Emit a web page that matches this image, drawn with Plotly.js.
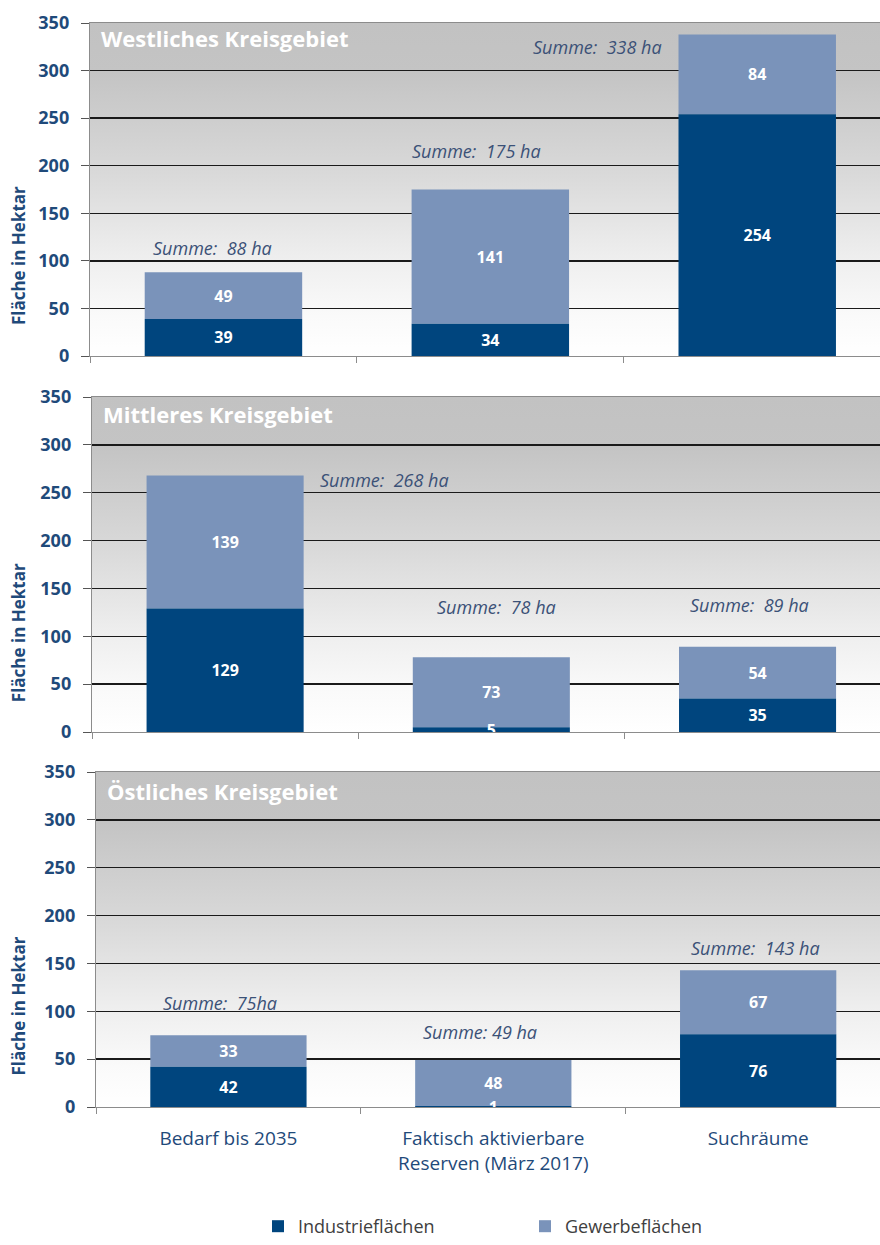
<!DOCTYPE html>
<html>
<head>
<meta charset="utf-8">
<script src="https://cdn.plot.ly/plotly-3.0.1.min.js"></script>
<style>html,body{margin:0;padding:0;background:#fff;overflow:hidden;width:880px;height:1245px;}#chart{width:880px;height:1245px;display:block;}</style>
</head>
<body>
<div id="chart"></div>
<script>
// ---- data ----
const categories = ['Bedarf bis 2035', 'Faktisch aktivierbare<br>Reserven (März 2017)', 'Suchräume'];
const seriesNames = ['Industrieflächen', 'Gewerbeflächen'];
const panelTitles = ['Westliches Kreisgebiet', 'Mittleres Kreisgebiet', 'Östliches Kreisgebiet'];

const westIndustrie = [39, 34, 254];
const westGewerbe = [49, 141, 84];
const mitteIndustrie = [129, 5, 35];
const mitteGewerbe = [139, 73, 54];
const ostIndustrie = [42, 1, 76];
const ostGewerbe = [33, 48, 67];

const westSumme = ['Summe:  88 ha', 'Summe:  175 ha', 'Summe:  338 ha'];
const mitteSumme = ['Summe:  268 ha', 'Summe:  78 ha', 'Summe:  89 ha'];
const ostSumme = ['Summe:  75ha', 'Summe: 49 ha', 'Summe:  143 ha'];

const yTicks = [0, 50, 100, 150, 200, 250, 300, 350];

// ---- styling / layout ----
const FONT = '"Open Sans", Lato, sans-serif';
const DARK = '#00457e';
const LIGHT = '#7a93ba';
const NAVY = '#1f4a7a';
const SUMC = '#3b5177';

const panels = [
  {ind: westIndustrie, gew: westGewerbe, sum: westSumme, title: panelTitles[0],
   yd: [1 - 356/1245, 1 - 23/1245], xl: 90/880,
   sumOff: [[-0.04, 26], [-0.05, 40], [-0.6, -13]], titleY: 0.955, ytY: 0.30},
  {ind: mitteIndustrie, gew: mitteGewerbe, sum: mitteSumme, title: panelTitles[1],
   yd: [1 - 732/1245, 1 - 397/1245], xl: 92/880,
   sumOff: [[0.6, -5], [0.02, 53], [-0.03, 44]], titleY: 0.949, ytY: 0.295},
  {ind: ostIndustrie, gew: ostGewerbe, sum: ostSumme, title: panelTitles[2],
   yd: [1 - 1107/1245, 1 - 772/1245], xl: 96/880,
   sumOff: [[-0.03, 34], [-0.05, 29], [-0.01, 23]], titleY: 0.943, ytY: 0.30}
];

const gradSvg = '<svg xmlns="http://www.w3.org/2000/svg" width="100" height="100" viewBox="0 0 100 100" preserveAspectRatio="none">' +
  '<defs><linearGradient id="g" x1="0" y1="0" x2="0" y2="1">' +
  '<stop offset="0" stop-color="#c2c2c2"/><stop offset="0.15" stop-color="#c4c4c4"/>' +
  '<stop offset="0.45" stop-color="#d9d9d9"/><stop offset="0.7" stop-color="#eeeeee"/>' +
  '<stop offset="0.88" stop-color="#fafafa"/><stop offset="1" stop-color="#ffffff"/>' +
  '</linearGradient></defs><rect x="0" y="0" width="100" height="100" fill="url(#g)"/></svg>';
const gradSrc = 'data:image/svg+xml;charset=utf-8,' + encodeURIComponent(gradSvg);

const traces = [];
const annotations = [];
const images = [];
const layout = {
  width: 880, height: 1245,
  margin: {l: 0, r: 0, t: 0, b: 0},
  paper_bgcolor: '#ffffff', plot_bgcolor: '#ffffff',
  barmode: 'overlay', bargap: 0.41,
  font: {family: FONT, color: NAVY},
  uniformtext: {mode: 'show', minsize: 16},
  showlegend: true,
  legend: {orientation: 'h', x: 258/880, xanchor: 'left', y: 0, yanchor: 'bottom',
           entrywidth: 222, entrywidthmode: 'pixels',
           font: {family: FONT, size: 18, color: '#404040'}, bgcolor: 'rgba(0,0,0,0)'}
};

panels.forEach((p, k) => {
  const n = k === 0 ? '' : String(k + 1);
  const xa = 'x' + n, ya = 'y' + n;
  // Gewerbe segment sits on top of Industrie (base = Industrie value); drawn first so
  // the Industrie labels stay visible above it.
  const common = {type: 'bar', x: categories, xaxis: xa, yaxis: ya, textposition: 'inside',
    insidetextanchor: 'middle', textangle: 0, constraintext: 'none', hoverinfo: 'skip',
    textfont: {family: FONT, size: 16, color: '#ffffff', weight: 'bold'}};
  traces.push(Object.assign({}, common, {
    y: p.gew, base: p.ind, name: seriesNames[1], legendgroup: seriesNames[1], legendrank: 2,
    showlegend: k === 0, marker: {color: LIGHT, line: {width: 0}}, text: p.gew.map(String)
  }));
  traces.push(Object.assign({}, common, {
    y: p.ind, base: p.ind.map(() => 0), name: seriesNames[0], legendgroup: seriesNames[0], legendrank: 1,
    showlegend: k === 0, marker: {color: DARK, line: {width: 0}}, text: p.ind.map(String), cliponaxis: false
  }));
  layout['xaxis' + n] = {
    domain: [p.xl, 1], anchor: ya, type: 'category', range: [-0.5, 2.46],
    showgrid: false, zeroline: false, showline: true, linecolor: '#8c8c8c', linewidth: 1.2, mirror: true,
    ticks: 'outside', tickson: 'boundaries', ticklen: 6, tickcolor: '#8c8c8c',
    showticklabels: k === 2, ticklabelstandoff: 14,
    tickfont: {family: FONT, size: 19, color: NAVY}
  };
  layout['yaxis' + n] = {
    domain: p.yd, anchor: xa, range: [0, 350], tickvals: yTicks,
    showgrid: true, gridcolor: '#1a1a1a', gridwidth: 1.3, zeroline: false,
    showline: true, linecolor: '#8c8c8c', linewidth: 1.2,
    ticks: 'outside', ticklen: 8, tickcolor: '#555555', ticklabelstandoff: 8,
    tickfont: {family: FONT, size: 18, color: NAVY, weight: 'bold'}
  };
  images.push({source: gradSrc, xref: xa + ' domain', yref: ya + ' domain', x: 0, y: 1,
               sizex: 1, sizey: 1, xanchor: 'left', yanchor: 'top', sizing: 'stretch', layer: 'below'});
  // panel title
  annotations.push({text: '<b>' + p.title + '</b>', xref: xa + ' domain', yref: ya + ' domain',
    x: 0.012, y: p.titleY, xanchor: 'left', yanchor: 'middle', showarrow: false,
    font: {family: FONT, size: 22, color: '#ffffff'}});
  // y axis title
  annotations.push({text: '<b>Fläche in Hektar</b>', xref: 'paper', yref: ya + ' domain',
    x: 18/880, y: p.ytY, xanchor: 'center', yanchor: 'middle', textangle: -90, showarrow: false,
    font: {family: FONT, size: 17, color: NAVY}});
  // sums
  p.sum.forEach((t, i) => {
    const total = p.ind[i] + p.gew[i];
    annotations.push({text: '<i>' + t + '</i>', xref: xa, yref: ya,
      x: i + p.sumOff[i][0], y: total + p.sumOff[i][1], xanchor: 'center', yanchor: 'middle',
      showarrow: false, font: {family: FONT, size: 18, color: SUMC}});
  });
});

layout.annotations = annotations;
layout.images = images;

Plotly.newPlot('chart', traces, layout, {displayModeBar: false, staticPlot: true});
</script>
</body>
</html>
